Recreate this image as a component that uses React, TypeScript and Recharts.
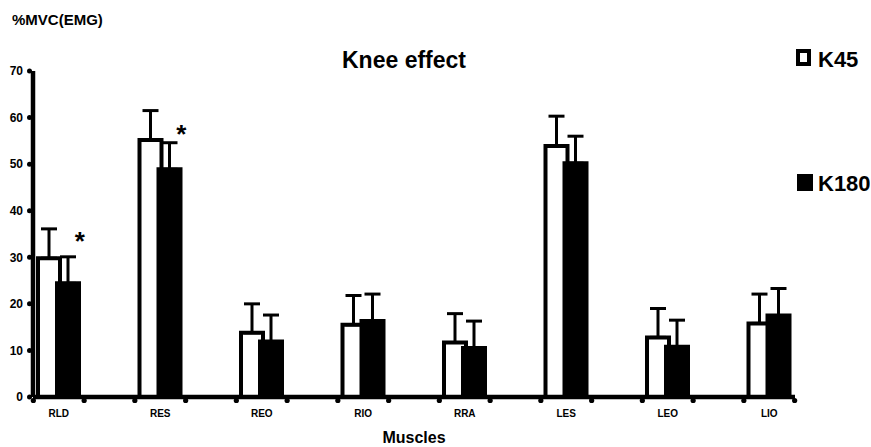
import React from "react";
import {
  ComposedChart,
  Bar,
  ErrorBar,
  Scatter,
  XAxis,
  YAxis,
  Legend,
  Label,
} from "recharts";

const muscles = ["RLD", "RES", "REO", "RIO", "RRA", "LES", "LEO", "LIO"];
const k45 = [29.8, 55.2, 13.8, 15.5, 11.7, 53.9, 12.8, 15.8];
const k45Err = [6.3, 6.3, 6.2, 6.3, 6.2, 6.4, 6.2, 6.3];
const k180 = [24.4, 48.9, 11.9, 16.3, 10.5, 50.2, 10.8, 17.5];
const k180Err = [5.7, 5.7, 5.7, 5.8, 5.8, 5.8, 5.7, 5.8];
// height of the significance asterisk (null = none)
const sigMark = [34.6, 57.5, null, null, null, null, null, null];
const yTicks = [0, 10, 20, 30, 40, 50, 60, 70];

const FONT = "'Liberation Sans', Arial, sans-serif";

const data = muscles.map((m, i) => ({
  muscle: m,
  k45: k45[i],
  k45Err: [0, k45Err[i]],
  k180: k180[i],
  k180Err: [0, k180Err[i]],
  sig: sigMark[i],
}));

const YTick = (props: any) => {
  const { x, y, payload } = props;
  return (
    <g>
      <circle cx={x - 3.5} cy={y} r={2.5} fill="#000" />
      <text
        x={x - 10}
        y={y}
        dy={4.3}
        textAnchor="end"
        fontSize={12}
        fontWeight="bold"
        fontFamily={FONT}
        fill="#000"
      >
        {payload.value}
      </text>
    </g>
  );
};

const XTick = (props: any) => {
  const { x, y, payload } = props;
  return (
    <g>
      <circle cx={x - 25.4} cy={y + 3.5} r={2.6} fill="#000" />
      <circle cx={x + 25.4} cy={y + 3.5} r={2.6} fill="#000" />
      <text
        x={x}
        y={y + 19.5}
        textAnchor="middle"
        fontSize={10}
        fontWeight="bold"
        fontFamily={FONT}
        fill="#000"
      >
        {payload.value}
      </text>
    </g>
  );
};

const Star = (props: any) => {
  const { cx, cy, payload } = props;
  if (payload == null || payload.sig == null) return <g />;
  return (
    <text
      x={cx + 21}
      y={cy + 14}
      textAnchor="middle"
      fontSize={26}
      fontWeight="bold"
      fontFamily={FONT}
      fill="#000"
    >
      *
    </text>
  );
};

const LegendBox = () => (
  <svg width={80} height={170} style={{ display: "block" }}>
    <rect x={8} y={13} width={11} height={13} fill="#fff" stroke="#000" strokeWidth={4} />
    <text x={28} y={29} fontSize={22} fontWeight="bold" fontFamily={FONT} fill="#000">
      K45
    </text>
    <rect x={7} y={136} width={16} height={17} fill="#000" />
    <text x={28} y={152.5} fontSize={22} fontWeight="bold" fontFamily={FONT} fill="#000">
      K180
    </text>
  </svg>
);

export default function App() {
  return (
    <div
      style={{
        position: "absolute",
        left: 0,
        top: 0,
        width: 871,
        height: 447,
        background: "#fff",
        fontFamily: FONT,
      }}
    >
      <ComposedChart
        width={871}
        height={447}
        data={data}
        margin={{ top: 71, right: 76, left: 8, bottom: 0 }}
        barGap={-3}
      >
        <XAxis
          dataKey="muscle"
          height={50}
          padding={{ left: -25, right: -25 }}
          axisLine={{ stroke: "#000", strokeWidth: 4.5 }}
          tickLine={false}
          tickSize={0}
          tickMargin={0}
          tick={<XTick />}
          interval={0}
        >
          <Label
            value="Muscles"
            position="insideBottom"
            offset={4}
            style={{ fontSize: 16, fontWeight: "bold", fontFamily: FONT, fill: "#000" }}
          />
        </XAxis>
        <YAxis
          width={25}
          domain={[0, 70]}
          ticks={yTicks}
          axisLine={{ stroke: "#000", strokeWidth: 4.5 }}
          tickLine={false}
          tickSize={0}
          tickMargin={0}
          tick={<YTick />}
        />
        <Legend
          layout="vertical"
          align="center"
          verticalAlign="middle"
          content={<LegendBox />}
          wrapperStyle={{ left: 790, top: 38, width: 80, height: 170 }}
        />
        <Bar
          dataKey="k45"
          name="K45"
          barSize={22}
          fill="#fff"
          stroke="#000"
          strokeWidth={4}
          isAnimationActive={false}
        >
          <ErrorBar dataKey="k45Err" width={8} stroke="#000" strokeWidth={3} direction="y" />
        </Bar>
        <Bar
          dataKey="k180"
          name="K180"
          barSize={22}
          fill="#000"
          stroke="#000"
          strokeWidth={4}
          isAnimationActive={false}
        >
          <ErrorBar dataKey="k180Err" width={8} stroke="#000" strokeWidth={3} direction="y" />
        </Bar>
        <Scatter dataKey="sig" shape={<Star />} isAnimationActive={false} legendType="none" />
      </ComposedChart>
      <svg
        width={871}
        height={447}
        style={{ position: "absolute", left: 0, top: 0, pointerEvents: "none" }}
      >
        <text x={12} y={25} fontSize={15} fontWeight="bold" fontFamily={FONT} fill="#000">
          %MVC(EMG)
        </text>
        <text
          x={404}
          y={68}
          textAnchor="middle"
          fontSize={23}
          fontWeight="bold"
          fontFamily={FONT}
          fill="#000"
        >
          Knee effect
        </text>
      </svg>
    </div>
  );
}
